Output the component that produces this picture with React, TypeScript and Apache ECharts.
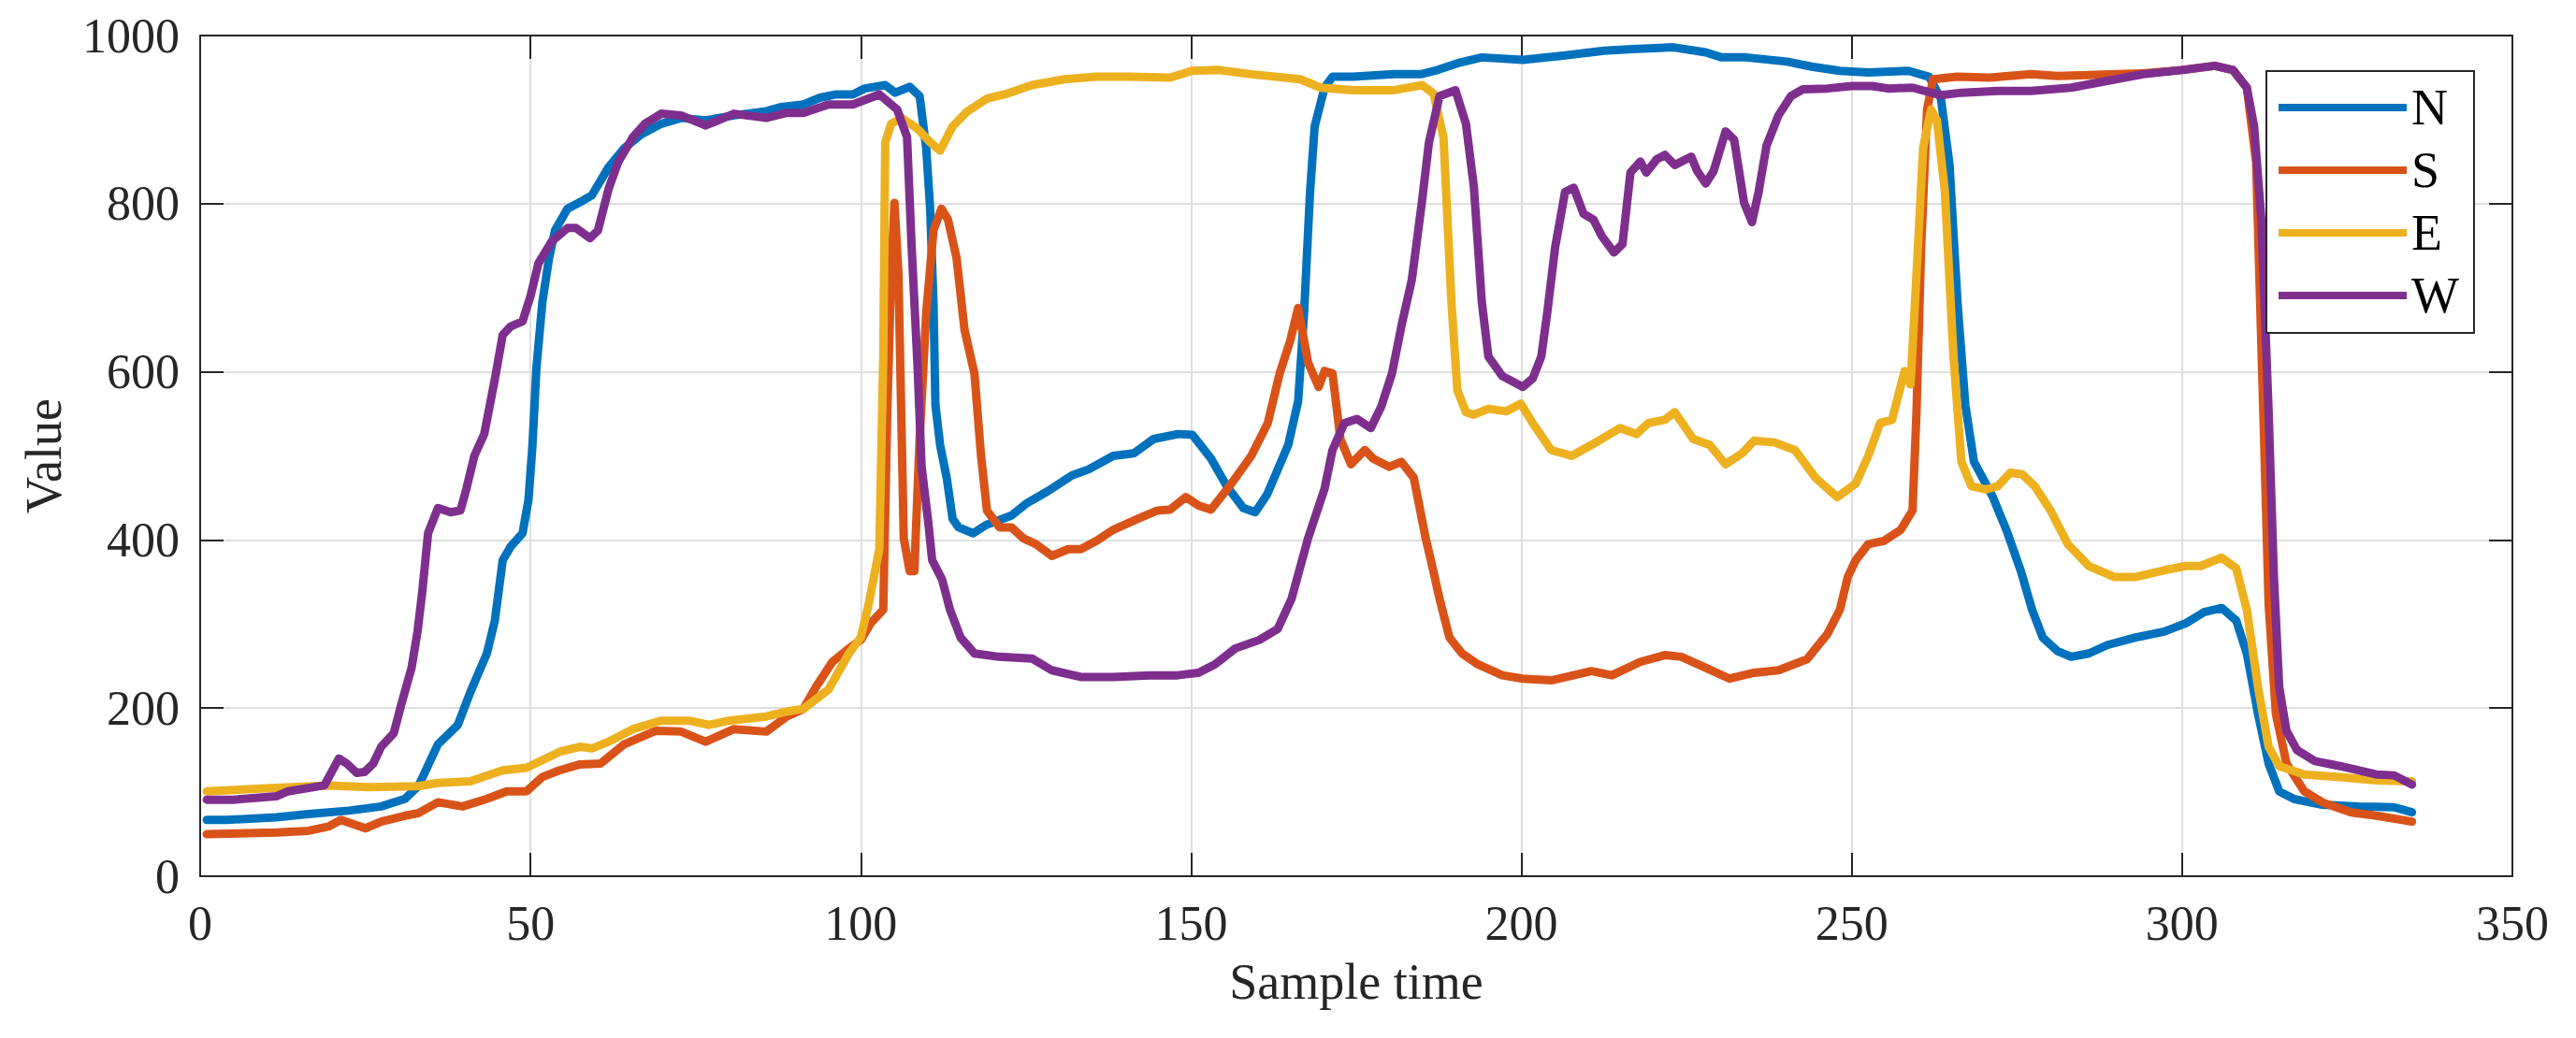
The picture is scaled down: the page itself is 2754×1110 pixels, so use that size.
import React, { useEffect, useRef } from 'react';
import * as echarts from 'echarts';

// sample times and readings for each direction
const nTime = [1, 4, 11.5, 16.4, 22.5, 27.4, 31, 33.1, 34.8, 36, 39, 40.9, 43.4, 44.6, 45.8, 47, 48.8, 49.7, 50.3, 50.9, 51.8, 52.8, 53.7, 55.6, 58, 59.3, 61.8, 64.2, 66.7, 69.8, 72.8, 76.5, 80.8, 85.7, 88, 91.3, 93.8, 96.3, 98.8, 100.6, 103.7, 105.2, 107.4, 108.9, 109.9, 110.5, 111, 111.3, 112, 113, 113.9, 114.8, 117, 119, 122.8, 125.2, 128.3, 132, 134.5, 138.2, 141.3, 144.3, 148, 150.2, 153, 155.4, 157.9, 159.7, 161.5, 164.7, 166.2, 167.1, 168, 168.7, 170.2, 171.4, 174.5, 180.7, 184.8, 187.3, 190.3, 194, 200.2, 206.3, 212.5, 216.8, 223, 227.9, 230.3, 234, 240.2, 243.9, 248.2, 252.5, 258.6, 261.7, 263.5, 264.8, 266, 267.2, 268.5, 271.3, 273.5, 275.6, 277.3, 278.9, 281.1, 283.2, 285.9, 288.7, 293, 297.3, 300.6, 303.3, 306, 308.2, 309.8, 311.5, 313.1, 314.7, 316.9, 321.2, 326.7, 332.1, 334.8];
const nValue = [67, 67, 70, 74, 78, 83, 92, 108, 137, 157, 180, 219, 265, 304, 376, 392, 408, 448, 513, 605, 683, 735, 768, 794, 804, 810, 843, 866, 882, 895, 902, 899, 905, 910, 915, 918, 926, 930, 930, 937, 941, 932, 939, 928, 866, 794, 683, 560, 513, 474, 425, 415, 408, 418, 429, 444, 458, 477, 484, 500, 503, 520, 526, 525, 497, 464, 438, 433, 454, 513, 565, 670, 814, 892, 938, 951, 951, 954, 954, 959, 967, 974, 971, 976, 982, 984, 986, 980, 974, 974, 969, 963, 958, 956, 958, 951, 925, 846, 683, 560, 493, 452, 410, 363, 317, 284, 268, 261, 265, 275, 284, 291, 301, 314, 319, 304, 265, 193, 134, 101, 92, 85, 83, 82, 76];

const sTime = [1, 11.5, 16.4, 19.4, 21.3, 25, 27.4, 31, 33, 36, 39.7, 43.4, 46.4, 49.4, 51.8, 54.4, 57.5, 60.6, 64.2, 69, 72.8, 76.5, 80.8, 85.7, 88.8, 91.3, 93.2, 95.7, 98.2, 100, 101.5, 103.4, 104, 104.6, 105.1, 105.7, 106.5, 107.4, 108.1, 108.9, 109.9, 111, 112.2, 113.2, 114.5, 115.7, 117.2, 118.2, 119.1, 121, 122.8, 124.6, 126.5, 128.9, 131.4, 133.3, 135.7, 138.2, 141.9, 144.9, 146.8, 149.2, 151.1, 153, 156.1, 159.1, 161.6, 163.4, 165, 166.2, 167.7, 169.3, 170.2, 171.4, 172.6, 174.2, 176.3, 177.5, 180, 181.8, 183.7, 185.5, 186.2, 187.6, 189.1, 191, 193.4, 197.1, 200.2, 204.5, 210.6, 213.7, 218, 221.7, 224.2, 227.9, 231.5, 235.2, 238.9, 243.2, 246.3, 248.2, 249.4, 250.6, 252.5, 254.9, 257.4, 259.2, 259.8, 260.5, 261.4, 262.3, 266, 270.9, 277.1, 281.2, 294, 300, 305, 307.7, 309.8, 311.2, 312.3, 313.1, 314.2, 315.8, 318.5, 321.2, 325.6, 329.4, 334.8];
const sValue = [50, 52, 54, 59, 67, 57, 65, 72, 75, 88, 83, 92, 101, 101, 118, 126, 133, 134, 157, 173, 172, 160, 175, 172, 190, 199, 225, 255, 271, 281, 301, 317, 552, 716, 801, 716, 402, 363, 363, 520, 670, 768, 794, 781, 735, 650, 598, 500, 435, 415, 415, 402, 395, 381, 389, 389, 399, 412, 425, 435, 436, 451, 441, 436, 467, 500, 539, 598, 637, 676, 611, 582, 601, 598, 520, 490, 507, 497, 487, 493, 474, 402, 379, 330, 284, 265, 252, 239, 235, 233, 244, 239, 255, 263, 261, 248, 235, 242, 245, 258, 288, 317, 356, 376, 395, 399, 412, 435, 552, 748, 912, 948, 951, 950, 954, 952, 955, 959, 964, 959, 938, 850, 552, 324, 193, 134, 101, 88, 76, 72, 65];

const eTime = [1, 11.5, 19.4, 25.5, 32.9, 36, 40.9, 45.8, 49.4, 54.4, 57.5, 59.3, 61.8, 65.5, 69.8, 74, 77, 80, 85.7, 88.8, 91.3, 95.1, 98.2, 100, 101.2, 102.8, 103.4, 103.7, 104.6, 106.2, 108.6, 110.5, 112, 113.9, 116, 119.1, 122.2, 125.9, 130.8, 135.7, 140.6, 146.8, 150.1, 154.2, 159.1, 166.5, 169.6, 174.5, 180.7, 185, 186.7, 188.2, 188.8, 189.4, 190.3, 191.6, 192.8, 195, 197.7, 199.9, 201.7, 204.5, 207.6, 210.6, 214.9, 217.4, 219.2, 221.7, 223.2, 226, 228.5, 230.9, 233.4, 235.2, 238.3, 241.4, 244.5, 247.8, 250.6, 252.5, 254.3, 256.1, 258, 258.9, 259.8, 260.8, 262, 262.9, 264.1, 265.4, 266.6, 268.1, 270.3, 272.1, 274, 275.8, 277.7, 280.1, 282.7, 285.9, 289.7, 293, 297.3, 300.6, 302.8, 306, 308.2, 309.8, 311.5, 313.1, 314.7, 318.5, 323.9, 329.4, 334.8];
const eValue = [101, 105, 108, 106, 107, 111, 113, 126, 129, 148, 154, 152, 160, 175, 185, 185, 180, 185, 190, 196, 199, 222, 265, 284, 324, 389, 618, 873, 895, 902, 889, 873, 863, 892, 909, 925, 931, 941, 948, 951, 951, 950, 958, 959, 954, 948, 938, 935, 935, 941, 931, 879, 781, 683, 578, 552, 549, 556, 553, 562, 539, 507, 500, 513, 533, 526, 539, 543, 552, 520, 513, 490, 503, 518, 516, 507, 474, 451, 467, 500, 539, 543, 601, 585, 716, 866, 912, 899, 814, 618, 493, 464, 460, 464, 480, 478, 464, 435, 395, 369, 356, 356, 364, 369, 369, 379, 366, 317, 225, 154, 131, 121, 118, 114, 113];

const wTime = [1, 5, 11.5, 13.3, 16.4, 18.8, 21, 22.2, 23.7, 24.9, 26.2, 27.4, 29.3, 30.5, 32, 32.9, 33.6, 34.5, 36, 37.9, 39.4, 40.3, 41.5, 43, 44.6, 45.8, 47, 48.8, 50, 51.2, 53.2, 55.6, 56.9, 59, 60.2, 61.8, 63.3, 65.5, 67.3, 69.8, 72.8, 76.5, 80.8, 85.7, 88.8, 91.3, 95.1, 98.8, 102.8, 105.5, 107, 107.7, 108.6, 109.2, 110.2, 110.8, 112.3, 113.5, 115.1, 117.2, 120.9, 125.9, 128.9, 133.3, 138.2, 143.7, 148, 151.1, 153.6, 156.7, 160.3, 163.1, 165.2, 167.7, 170.2, 171.4, 173.2, 175.1, 177.2, 178.8, 180.4, 181.9, 183.4, 184.9, 186, 187.6, 190, 191.6, 192.8, 194, 195, 197.1, 200.2, 201.7, 203, 203.9, 205.1, 206.6, 207.9, 209.4, 210.9, 212.2, 214, 215.3, 216.5, 218, 218.9, 220.5, 221.7, 223.2, 225.7, 226.6, 227.9, 229.1, 230.9, 232.2, 233.7, 234.9, 235.9, 237.1, 238.9, 240.8, 242.6, 246.3, 250, 253.1, 255.5, 259.2, 263.5, 266.6, 272.1, 277.1, 283.2, 294.1, 300, 304.9, 307.7, 309.8, 310.9, 312, 313.1, 313.9, 314.7, 315.8, 317.4, 320.1, 323.9, 329.4, 332.1, 334.8];
const wValue = [91, 91, 95, 101, 105, 108, 140, 134, 123, 124, 134, 154, 170, 206, 248, 291, 337, 408, 438, 433, 435, 461, 500, 526, 591, 644, 654, 660, 690, 729, 755, 771, 771, 759, 768, 817, 850, 879, 895, 907, 905, 893, 907, 902, 908, 908, 918, 918, 930, 912, 879, 748, 605, 487, 422, 376, 353, 317, 284, 265, 261, 259, 245, 237, 237, 239, 239, 242, 252, 271, 281, 294, 330, 402, 461, 507, 539, 544, 533, 559, 598, 657, 709, 800, 873, 928, 935, 895, 820, 683, 618, 595, 582, 592, 618, 670, 748, 814, 819, 788, 781, 761, 742, 752, 837, 850, 837, 853, 858, 846, 856, 839, 824, 839, 886, 876, 801, 778, 814, 869, 905, 928, 936, 937, 940, 940, 937, 938, 929, 932, 934, 934, 938, 954, 959, 964, 959, 938, 892, 781, 552, 356, 225, 173, 150, 137, 131, 121, 120, 109];

const seriesNames = ['N', 'S', 'E', 'W'];
const seriesColors = ['#0072BD', '#D95319', '#EDB120', '#7E2F8E'];
const xTicks = { min: 0, max: 350, interval: 50 };
const yTicks = { min: 0, max: 1000, interval: 200 };

const zip = (xs: number[], ys: number[]) => xs.map((x, i) => [x, ys[i]]);

const FONT = '"Liberation Serif", "Times New Roman", serif';
const INK = '#262626';

export default function App() {
  const ref = useRef<HTMLDivElement>(null);

  useEffect(() => {
    document.body.style.margin = '0';
    if (!ref.current) return;
    const chart = echarts.init(ref.current, null, { renderer: 'svg' });

    const tick = { show: true, inside: true, length: 25, lineStyle: { color: INK, width: 2 } };
    const line = { show: true, onZero: false, lineStyle: { color: INK, width: 2 } };
    const label = { color: INK, fontSize: 52, fontFamily: FONT, formatter: (v: number) => String(v) };
    const split = { show: true, lineStyle: { color: '#dfdfdf', width: 2 } };

    const tracks = [zip(nTime, nValue), zip(sTime, sValue), zip(eTime, eValue), zip(wTime, wValue)];

    chart.setOption({
      animation: false,
      backgroundColor: '#ffffff',
      grid: { left: 214, right: 68, top: 38, bottom: 173, containLabel: false },
      legend: {
        orient: 'vertical',
        left: 2423,
        top: 76,
        padding: [12, 16, 13, 13],
        itemWidth: 137,
        itemHeight: 8,
        itemGap: 13,
        icon: 'rect',
        selectedMode: false,
        backgroundColor: '#ffffff',
        borderColor: INK,
        borderWidth: 2,
        textStyle: { color: '#000000', fontSize: 54, fontFamily: FONT, lineHeight: 52 },
        data: seriesNames,
      },
      xAxis: [
        {
          type: 'value',
          ...xTicks,
          name: 'Sample time',
          nameLocation: 'middle',
          nameGap: 86,
          nameTextStyle: { color: INK, fontSize: 54, fontFamily: FONT },
          axisLine: line,
          axisTick: tick,
          axisLabel: { ...label, margin: 24 },
          splitLine: split,
        },
        {
          type: 'value',
          position: 'top',
          ...xTicks,
          axisLine: line,
          axisTick: tick,
          axisLabel: { show: false },
          splitLine: { show: false },
        },
      ],
      yAxis: [
        {
          type: 'value',
          ...yTicks,
          name: 'Value',
          nameLocation: 'middle',
          nameGap: 140,
          nameTextStyle: { color: INK, fontSize: 54, fontFamily: FONT },
          axisLine: line,
          axisTick: tick,
          axisLabel: { ...label, margin: 22 },
          splitLine: split,
        },
        {
          type: 'value',
          position: 'right',
          ...yTicks,
          axisLine: line,
          axisTick: tick,
          axisLabel: { show: false },
          splitLine: { show: false },
        },
      ],
      series: seriesNames.map((name, i) => ({
        name,
        type: 'line',
        data: tracks[i],
        showSymbol: false,
        symbol: 'none',
        color: seriesColors[i],
        lineStyle: { color: seriesColors[i], width: 9, join: 'round', cap: 'round' },
      })),
    });

    return () => chart.dispose();
  }, []);

  return <div ref={ref} style={{ width: 2754, height: 1110 }} />;
}
